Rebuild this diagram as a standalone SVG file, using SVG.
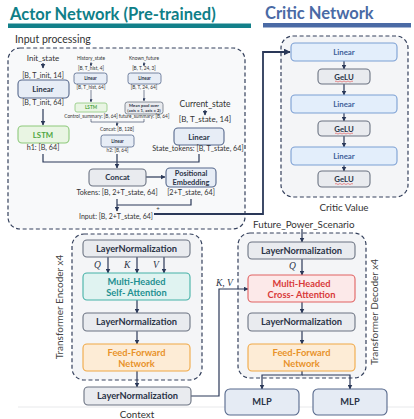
<svg xmlns="http://www.w3.org/2000/svg" width="414" height="419" viewBox="0 0 414 419">
  <style>
    text { font-family: Lato, "Noto Sans", "DejaVu Sans", sans-serif; fill: #2b3447; }
    .title-a { font-size: 16.5px; font-weight: bold; fill: #0f7f88; }
    .title-c { font-size: 16.5px; font-weight: bold; fill: #4a6aa5; }
    .lbl { font-size: 10.5px; fill: #333; }
    .dim { font-size: 7.2px; text-anchor: middle; fill: #333; }
    .tiny { font-size: 4.8px; text-anchor: middle; fill: #333; }
    .tinyb { font-size: 4.6px; text-anchor: middle; font-weight: bold; fill: #2b3447; }
    .nb { font-size: 9.3px; font-weight: bold; text-anchor: middle; fill: #2b3447; }
    .ns { font-size: 7.8px; font-weight: bold; text-anchor: middle; fill: #2b3447; }
    .math { font-family: "Liberation Serif", "DejaVu Serif", serif; font-style: italic; font-size: 9.5px; fill: #2b3447; }
    .side { font-size: 10px; text-anchor: middle; fill: #444; }
    .dash { fill: #f4f5f7; stroke: #34405c; stroke-width: 1.2; stroke-dasharray: 4 2.6; }
    .gray { fill: #e9ebef; stroke: #6b7382; stroke-width: 1.1; }
    .blue { fill: #e7edf6; stroke: #56688c; stroke-width: 1.1; }
    .cblue { fill: #e3eefb; stroke: #7b9fd4; stroke-width: 1.1; }
    .green { fill: #e9f5e3; stroke: #8dc97b; stroke-width: 1.1; }
    .teal { fill: #e0f3f1; stroke: #44b1a7; stroke-width: 1.1; }
    .red { fill: #fce9e9; stroke: #e06262; stroke-width: 1.1; }
    .orange { fill: #fdecd6; stroke: #f0a845; stroke-width: 1.1; }
    .conn { fill: none; stroke: #2a3858; stroke-width: 1.2; }
    .thin { fill: none; stroke: #2a3858; stroke-width: 0.6; }
    .thick { fill: none; stroke: #2a3858; stroke-width: 1.8; }
    .squig { fill: none; stroke: #e04848; stroke-width: 0.6; }
  </style>
  <defs>
    <marker id="ah" viewBox="0 0 10 10" refX="9" refY="5" markerWidth="5" markerHeight="5" markerUnits="userSpaceOnUse" orient="auto">
      <path d="M0,0 L10,5 L0,10 z" fill="#2a3858"/>
    </marker>
    <marker id="ahs" viewBox="0 0 10 10" refX="9" refY="5" markerWidth="3" markerHeight="3" markerUnits="userSpaceOnUse" orient="auto">
      <path d="M0,0 L10,5 L0,10 z" fill="#2a3858"/>
    </marker>
    <marker id="ahb" viewBox="0 0 10 10" refX="9" refY="5" markerWidth="7" markerHeight="7" markerUnits="userSpaceOnUse" orient="auto">
      <path d="M0,0 L10,5 L0,10 z" fill="#2a3858"/>
    </marker>
  </defs>

  <!-- headings -->
  <text class="title-a" x="10" y="20">Actor Network (Pre-trained)</text>
  <rect x="8" y="23.5" width="243" height="4.5" fill="#13808a"/>
  <text class="title-c" x="265" y="19">Critic Network</text>
  <rect x="263" y="23" width="148" height="4.5" fill="#4a6aa5"/>

  <!-- separator under the lower half -->
  <line x1="18" y1="407" x2="414" y2="407" stroke="#e2e3e6" stroke-width="0.8"/>

  <!-- containers -->
  <g id="input-processing">
    <text class="lbl" x="15" y="43">Input processing</text>
    <rect class="dash" x="8" y="48" width="237" height="181" rx="12" style="fill:#f8f9fa"/>
  </g>
  <g id="critic-block">
    <rect class="dash" x="281" y="36" width="127" height="161" rx="12"/>
    <text class="lbl" x="344" y="211" text-anchor="middle" style="font-size:9.8px">Critic Value</text>
  </g>
  <g id="encoder-block">
    <rect class="dash" x="72" y="234" width="130" height="146" rx="12"/>
    <text class="side" transform="translate(63,307) rotate(-90)">Transformer Encoder x4</text>
  </g>
  <g id="decoder-block">
    <rect class="dash" x="238" y="233" width="128" height="145" rx="12"/>
    <text class="side" transform="translate(378,312) rotate(-90)">Transformer Decoder x4</text>
  </g>

  <!-- connectors -->
  <g id="connectors">
    <!-- init_state branch -->
    <path class="conn" d="M43 63 V68" marker-end="url(#ah)"/>
    <path class="conn" d="M43 109 V125" marker-end="url(#ah)"/>
    <!-- history branch -->
    <path class="thin" d="M91 62 V66" marker-end="url(#ahs)"/>
    <path class="thin" d="M91 90 V102" marker-end="url(#ahs)"/>
    <!-- known future branch -->
    <path class="thin" d="M144 62 V66" marker-end="url(#ahs)"/>
    <path class="thin" d="M144 90 V101" marker-end="url(#ahs)"/>
    <path class="thin" d="M91 119 V122 H144 V119"/>
    <path class="thin" d="M117 122 V126" marker-end="url(#ahs)"/>
    <!-- current state -->
    <path class="conn" d="M205 110 V115" marker-end="url(#ah)"/>
    <!-- merge into concat -->
    <path class="conn" d="M43 154 V162 H199 V154"/>
    <path class="conn" d="M117 154 V168" marker-end="url(#ah)"/>
    <path class="conn" d="M146 177 H165" marker-end="url(#ah)"/>
    <path class="conn" d="M117 199 V211" marker-end="url(#ah)"/>
    <path class="conn" d="M117 205 H191 V199"/>
    <!-- input to critic -->
    <path class="thick" d="M154 214 H263 V52 H290" marker-end="url(#ahb)"/>
    <!-- critic chain -->
    <path class="conn" d="M344 61 V69" marker-end="url(#ah)"/>
    <path class="conn" d="M344 84 V95" marker-end="url(#ah)"/>
    <path class="conn" d="M344 113 V121" marker-end="url(#ah)"/>
    <path class="conn" d="M344 136 V147" marker-end="url(#ah)"/>
    <path class="conn" d="M344 165 V171" marker-end="url(#ah)"/>
    <!-- encoder chain -->
    <path class="conn" d="M108 257 V273" marker-end="url(#ah)"/>
    <path class="conn" d="M137 257 V273" marker-end="url(#ah)"/>
    <path class="conn" d="M164 257 V273" marker-end="url(#ah)"/>
    <path class="conn" d="M137 300 V313" marker-end="url(#ah)"/>
    <path class="conn" d="M137 331 V344" marker-end="url(#ah)"/>
    <path class="conn" d="M137 371 V387" marker-end="url(#ah)"/>
    <!-- context to cross attention -->
    <path class="conn" d="M191 396 H219 V289 H248" marker-end="url(#ah)"/>
    <!-- decoder chain -->
    <path class="conn" d="M302 229 V242" marker-end="url(#ah)"/>
    <path class="conn" d="M302 259 V275" marker-end="url(#ah)"/>
    <path class="conn" d="M302 302 V313" marker-end="url(#ah)"/>
    <path class="conn" d="M302 331 V344" marker-end="url(#ah)"/>
    <path class="conn" d="M302 371 V375 H262 V389" marker-end="url(#ah)"/>
    <path class="conn" d="M302 375 H350 V389" marker-end="url(#ah)"/>
  </g>

  <!-- input processing nodes -->
  <g id="init-linear">
    <text class="dim" x="43" y="61" style="font-size:8px">Init_state</text>
    <text class="dim" x="43" y="77.5">[B, T_init, 14]</text>
    <rect class="blue" x="18" y="80" width="51" height="18" rx="4"/>
    <text class="ns" x="43" y="91.8">Linear</text>
    <text class="dim" x="43" y="105">[B, T_init, 64]</text>
  </g>
  <g id="init-lstm">
    <rect class="green" x="18" y="126" width="51" height="17" rx="4"/>
    <text class="ns" x="43" y="137.5" style="fill:#4fa63f">LSTM</text>
    <text class="dim" x="43" y="149.5">h1: [B, 64]</text>
  </g>
  <g id="history-linear">
    <text class="tiny" x="91" y="60">History_state</text>
    <text class="tiny" x="91" y="70">[B, T_hist, 4]</text>
    <rect class="blue" x="74" y="73" width="33" height="11" rx="2.5" style="stroke-width:0.8"/>
    <text class="tinyb" x="90.5" y="80.3">Linear</text>
    <text class="tiny" x="91" y="89">[B, T_hist, 64]</text>
  </g>
  <g id="history-lstm">
    <rect class="green" x="75" y="103" width="32" height="9" rx="2" style="stroke-width:0.8"/>
    <text class="tinyb" x="91" y="109.3" style="fill:#4fa63f">LSTM</text>
    <text class="tiny" x="91" y="117.5">Control_summary: [B, 64]</text>
  </g>
  <g id="future-linear">
    <text class="tiny" x="144" y="60">Known_future</text>
    <text class="tiny" x="144" y="70">[B, T, 24, 3]</text>
    <rect class="blue" x="128" y="73" width="33" height="11" rx="2.5" style="stroke-width:0.8"/>
    <text class="tinyb" x="144.5" y="80.3">Linear</text>
    <text class="tiny" x="144" y="89">[B, T, 24, 64]</text>
  </g>
  <g id="future-pool">
    <rect class="gray" x="125" y="102" width="38" height="12" rx="2.5" style="stroke-width:0.8"/>
    <text class="tinyb" x="144" y="107.2" style="font-size:4.3px">Mean pool over</text>
    <text class="tinyb" x="144" y="112.4" style="font-size:4.3px">(axis = 1, axis = 2)</text>
    <text class="tiny" x="144" y="117.5">future_summary: [B, 64]</text>
  </g>
  <g id="summary-linear">
    <text class="tiny" x="117" y="131">Concat: [B, 128]</text>
    <rect class="blue" x="101" y="135" width="33" height="12" rx="2.5" style="stroke-width:0.8"/>
    <text class="tinyb" x="117.5" y="142.7">Linear</text>
    <text class="tiny" x="117.5" y="152">h2: [B, 64]</text>
  </g>
  <g id="state-linear">
    <text class="dim" x="205" y="107" style="font-size:8.5px">Current_state</text>
    <text class="dim" x="205" y="122" style="font-size:8px">[B, T_state, 14]</text>
    <rect class="blue" x="174" y="128" width="50" height="17" rx="4"/>
    <text class="ns" x="199" y="139.5">Linear</text>
    <text class="dim" x="198" y="150.5">State_tokens: [B, T_state, 64]</text>
  </g>
  <g id="concat">
    <rect class="gray" x="89" y="169" width="57" height="17" rx="4"/>
    <text class="ns" x="117.5" y="180.3">Concat</text>
    <text class="dim" x="117" y="194.5">Tokens: [B, 2+T_state, 64]</text>
  </g>
  <g id="positional-embedding">
    <rect class="blue" x="166" y="168" width="50" height="19" rx="4"/>
    <text class="ns" x="191" y="176.2" style="font-size:7.4px">Positional</text>
    <text class="ns" x="191" y="184.6" style="font-size:7.4px">Embedding</text>
    <text class="dim" x="191" y="195">[2+T_state, 64]</text>
  </g>
  <g id="input-tokens">
    <text class="dim" x="158" y="211" style="font-size:6px">+</text>
    <text class="dim" x="116" y="218.5" style="font-size:7px">Input: [B, 2+T_state, 64]</text>
  </g>

  <!-- critic nodes -->
  <g id="critic-linear-1">
    <rect class="cblue" x="291" y="43" width="106" height="18" rx="4"/>
    <text class="ns" x="344" y="55" style="fill:#3f5f9a">Linear</text>
  </g>
  <g id="critic-gelu-1">
    <rect class="gray" x="318" y="69" width="52" height="15" rx="4"/>
    <text class="ns" x="344" y="79.5">GeLU</text>
    <path class="squig" d="M335 81.5 q1 -1 2 0 t2 0 t2 0 t2 0 t2 0 t2 0 t2 0 t2 0 t2 0"/>
  </g>
  <g id="critic-linear-2">
    <rect class="cblue" x="291" y="95" width="106" height="18" rx="4"/>
    <text class="ns" x="344" y="107" style="fill:#3f5f9a">Linear</text>
  </g>
  <g id="critic-gelu-2">
    <rect class="gray" x="318" y="121" width="52" height="15" rx="4"/>
    <text class="ns" x="344" y="131.5">GeLU</text>
    <path class="squig" d="M335 133.5 q1 -1 2 0 t2 0 t2 0 t2 0 t2 0 t2 0 t2 0 t2 0 t2 0"/>
  </g>
  <g id="critic-linear-3">
    <rect class="cblue" x="291" y="147" width="106" height="18" rx="4"/>
    <text class="ns" x="344" y="159" style="fill:#3f5f9a">Linear</text>
  </g>
  <g id="critic-gelu-3">
    <rect class="gray" x="318" y="171" width="52" height="16" rx="4"/>
    <text class="ns" x="344" y="182">GeLU</text>
    <path class="squig" d="M335 184 q1 -1 2 0 t2 0 t2 0 t2 0 t2 0 t2 0 t2 0 t2 0 t2 0"/>
  </g>

  <!-- encoder nodes -->
  <g id="enc-norm-1">
    <rect class="gray" x="83" y="240" width="107" height="17" rx="4"/>
    <text class="nb" x="136.5" y="251.8">LayerNormalization</text>
    <text class="math" x="94" y="268">Q</text>
    <text class="math" x="124" y="268">K</text>
    <text class="math" x="153" y="268">V</text>
  </g>
  <g id="enc-self-attention">
    <rect class="teal" x="83" y="273" width="107" height="27" rx="4"/>
    <text class="nb" x="136.5" y="284.5" style="fill:#1f9090">Multi-Headed</text>
    <text class="nb" x="136.5" y="296.3" style="fill:#1f9090">Self- Attention</text>
  </g>
  <g id="enc-norm-2">
    <rect class="gray" x="83" y="313" width="107" height="18" rx="4"/>
    <text class="nb" x="136.5" y="325.3">LayerNormalization</text>
  </g>
  <g id="enc-ffn">
    <rect class="orange" x="83" y="344" width="107" height="27" rx="4"/>
    <text class="nb" x="136.5" y="355.5" style="fill:#e8922a">Feed-Forward</text>
    <text class="nb" x="136.5" y="367.3" style="fill:#e8922a">Network</text>
  </g>
  <g id="enc-norm-out">
    <rect class="gray" x="84" y="387" width="107" height="18" rx="4"/>
    <text class="nb" x="137.5" y="399.3">LayerNormalization</text>
    <text class="lbl" x="137" y="418" text-anchor="middle" style="font-size:9.8px">Context</text>
  </g>
  <text class="math" x="216" y="286">K, V</text>

  <!-- decoder nodes -->
  <text class="lbl" x="253" y="228" style="font-size:9.8px">Future_Power_Scenario</text>
  <g id="dec-norm-1">
    <rect class="gray" x="248" y="242" width="107" height="17" rx="4"/>
    <text class="nb" x="301.5" y="253.8">LayerNormalization</text>
    <text class="math" x="289" y="269">Q</text>
  </g>
  <g id="dec-cross-attention">
    <rect class="red" x="248" y="275" width="107" height="27" rx="4"/>
    <text class="nb" x="301.5" y="286.5" style="fill:#d83a3a">Multi-Headed</text>
    <text class="nb" x="301.5" y="298.3" style="fill:#d83a3a">Cross- Attention</text>
  </g>
  <g id="dec-norm-2">
    <rect class="gray" x="248" y="313" width="107" height="18" rx="4"/>
    <text class="nb" x="301.5" y="325.3">LayerNormalization</text>
  </g>
  <g id="dec-ffn">
    <rect class="orange" x="248" y="344" width="107" height="27" rx="4"/>
    <text class="nb" x="301.5" y="355.5" style="fill:#e8922a">Feed-Forward</text>
    <text class="nb" x="301.5" y="367.3" style="fill:#e8922a">Network</text>
  </g>
  <g id="mlp-1">
    <rect class="blue" x="225" y="389" width="74" height="26" rx="5" style="fill:#e5ebf4"/>
    <text class="nb" x="262" y="405.2">MLP</text>
  </g>
  <g id="mlp-2">
    <rect class="blue" x="313" y="389" width="74" height="26" rx="5" style="fill:#e5ebf4"/>
    <text class="nb" x="350" y="405.2">MLP</text>
  </g>
</svg>
